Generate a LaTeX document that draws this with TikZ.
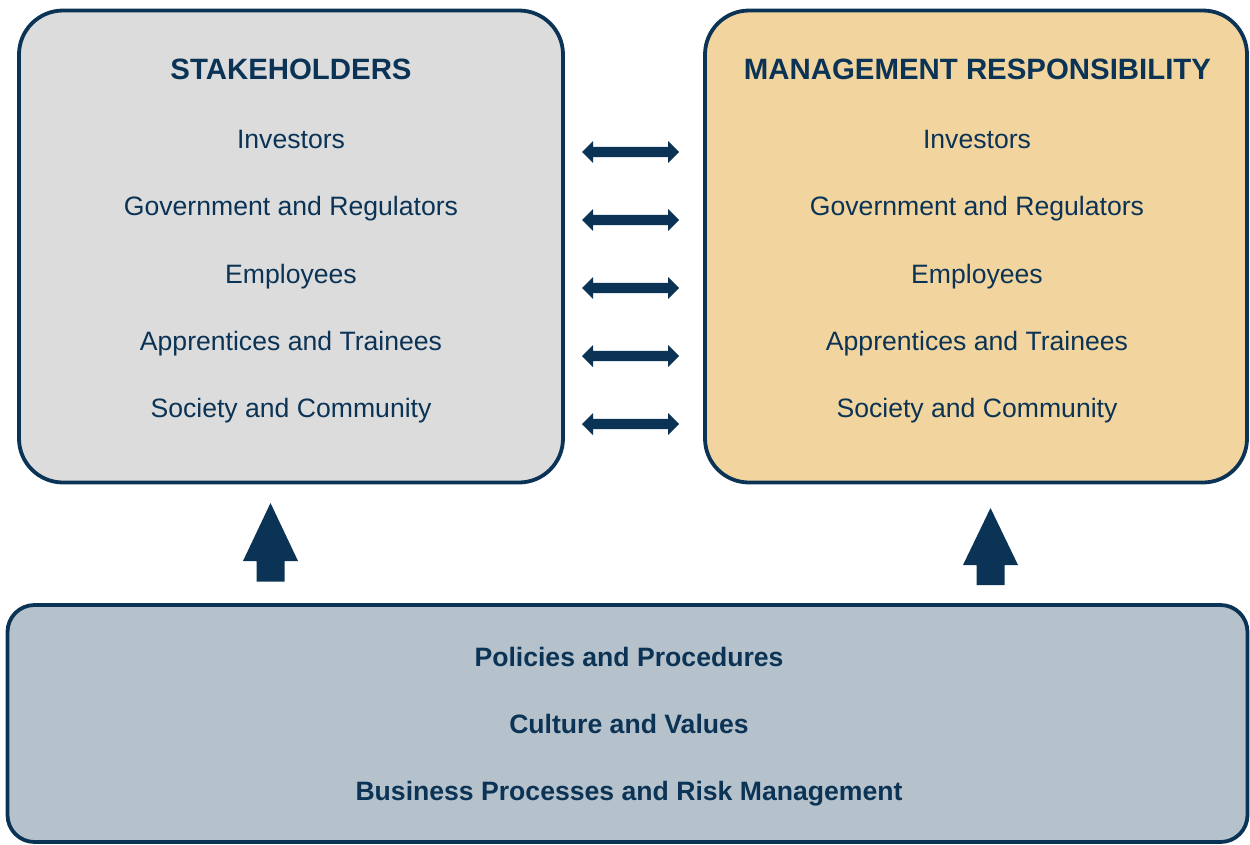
\documentclass[tikz,border=0pt]{standalone}
\usepackage{fontspec}
\setmainfont{Liberation Sans}
\begin{document}
\definecolor{navy}{HTML}{0B3355}
\definecolor{greyfill}{HTML}{DCDCDC}
\definecolor{tanfill}{HTML}{F2D59E}
\definecolor{slatefill}{HTML}{B6C2CB}
\begin{tikzpicture}[x=1pt,y=-1pt,
  panel/.style={draw=navy, line width=3.8pt, rounded corners=44pt, inner sep=0pt},
  heading/.style={text=navy, font=\fontsize{29.4}{35}\selectfont\bfseries, anchor=base, inner sep=0pt},
  item/.style={text=navy, font=\fontsize{26.6}{32}\selectfont, anchor=base, inner sep=0pt},
  basis/.style={text=navy, font=\fontsize{26.6}{32}\selectfont\bfseries, anchor=base, inner sep=0pt},
  arrowshape/.style={fill=navy, draw=none}]
\useasboundingbox (0,0) rectangle (1250,844);

% the three panels
\node[panel, fill=greyfill, minimum width=544pt, minimum height=472pt] (stake) at (291,246.5) {};
\node[panel, fill=tanfill, minimum width=542pt, minimum height=472pt] (mgmt) at (976,246.5) {};
\node[panel, fill=slatefill, rounded corners=27pt, minimum width=1240pt, minimum height=237pt] (base) at (627.5,723.5) {};

% panel headings
\node[heading] (stakeT) at (291,79) {STAKEHOLDERS};
\node[heading] (mgmtT) at (977.5,79) {MANAGEMENT RESPONSIBILITY};

% stakeholder groups, listed in both upper panels
\foreach \txt [count=\i] in {Investors, Government and Regulators, Employees, Apprentices and Trainees, Society and Community}{
  \pgfmathsetmacro{\yb}{148.5+67.3*(\i-1)}
  \node[item] (s\i) at (291,\yb) {\txt};
  \node[item] (m\i) at (977,\yb) {\txt};
}

% foundations in the lower panel
\node[basis] (b1) at (629,666.5) {Policies and Procedures};
\node[basis] (b2) at (629,733.5) {Culture and Values};
\node[basis] (b3) at (629,800.5) {Business Processes and Risk Management};

% two-way arrows between the upper panels
\foreach \c in {152,220,288,356,424}{
  \fill[arrowshape] (582,\c) -- (593,\c-11) -- (593,\c-5.2) -- (668,\c-5.2) -- (668,\c-11)
    -- (679,\c) -- (668,\c+11) -- (668,\c+5.2) -- (593,\c+5.2) -- (593,\c+11) -- cycle;
}

% upward block arrows from the lower panel
\fill[arrowshape] (270.5,503) -- (298,561) -- (284.5,561) -- (284.5,581.5) -- (256.5,581.5)
  -- (256.5,561) -- (243,561) -- cycle;
\fill[arrowshape] (990.5,508) -- (1018,565) -- (1004.5,565) -- (1004.5,585) -- (976.5,585)
  -- (976.5,565) -- (963,565) -- cycle;
\end{tikzpicture}
\end{document}
